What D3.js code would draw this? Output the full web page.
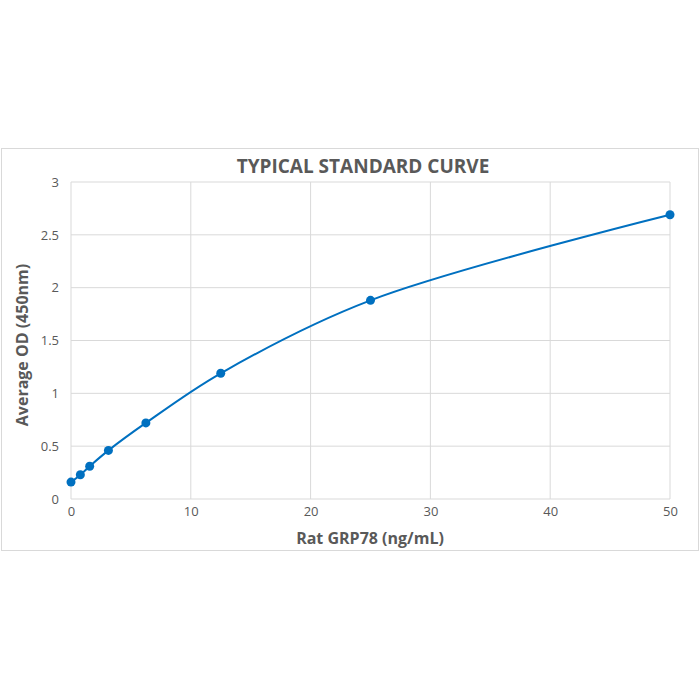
<!DOCTYPE html>
<html><head><meta charset="utf-8">
<script src="https://cdn.jsdelivr.net/npm/d3@7"></script>
<style>body{margin:0;background:#fff}</style></head>
<body><svg id="c" width="700" height="700"></svg>
<script>
const concentrations = [0, 0.78, 1.56, 3.125, 6.25, 12.5, 25, 50];
const odValues = [0.16, 0.23, 0.31, 0.46, 0.72, 1.19, 1.88, 2.69];
const xTicks = [0, 10, 20, 30, 40, 50];
const yTicks = [0, 0.5, 1, 1.5, 2, 2.5, 3];
const title = "TYPICAL STANDARD CURVE";
const xLabel = "Rat GRP78 (ng/mL)";
const yLabel = "Average OD (450nm)";

const svg = d3.select("#c");
const font = "'Open Sans', 'Liberation Sans', sans-serif";
svg.append("rect").attr("x",1.5).attr("y",148.5).attr("width",697).attr("height",402)
  .attr("fill","#fff").attr("stroke","#d9d9d9");
const x = d3.scaleLinear().domain([0,50]).range([71,670]);
const y = d3.scaleLinear().domain([0,3]).range([499,182]);
const g = svg.append("g");
g.selectAll(".vg").data(xTicks).join("line").attr("x1",d=>x(d)).attr("x2",d=>x(d))
  .attr("y1",y(0)).attr("y2",y(3)).attr("stroke","#d9d9d9");
g.selectAll(".hg").data(yTicks).join("line").attr("x1",x(0)).attr("x2",x(50))
  .attr("y1",d=>y(d)).attr("y2",d=>y(d)).attr("stroke","#d9d9d9");
const xa = svg.append("g").attr("transform",`translate(0,${y(0)})`)
  .call(d3.axisBottom(x).tickValues(xTicks).tickSize(0).tickPadding(8));
const ya = svg.append("g").attr("transform",`translate(${x(0)},0)`)
  .call(d3.axisLeft(y).tickValues(yTicks).tickSize(0).tickPadding(12).tickFormat(d=>String(d)));
[xa,ya].forEach(a=>{a.select(".domain").remove();
  a.selectAll("text").attr("fill","#595959").style("font-family",font).style("font-size","13px");});
const pts = concentrations.map((c,i)=>[c,odValues[i]]);
svg.append("path").datum(pts).attr("fill","none").attr("stroke","#0070c0").attr("stroke-width",2)
  .attr("d",d3.line().x(d=>x(d[0])).y(d=>y(d[1])).curve(d3.curveCatmullRom.alpha(0.5)));
svg.selectAll(".pt").data(pts).join("circle").attr("cx",d=>x(d[0])).attr("cy",d=>y(d[1]))
  .attr("r",4.5).attr("fill","#0070c0");
svg.append("text").attr("x",363).attr("y",173).attr("text-anchor","middle").attr("fill","#595959")
  .style("font-family",font).style("font-size","19px").style("font-weight","bold").text(title);
svg.append("text").attr("x",370).attr("y",544).attr("text-anchor","middle").attr("fill","#595959")
  .style("font-family",font).style("font-size","16px").style("font-weight","bold").text(xLabel);
svg.append("text").attr("transform","translate(28,345) rotate(-90)").attr("text-anchor","middle").attr("fill","#595959")
  .style("font-family",font).style("font-size","16px").style("font-weight","bold").text(yLabel);
</script></body></html>
